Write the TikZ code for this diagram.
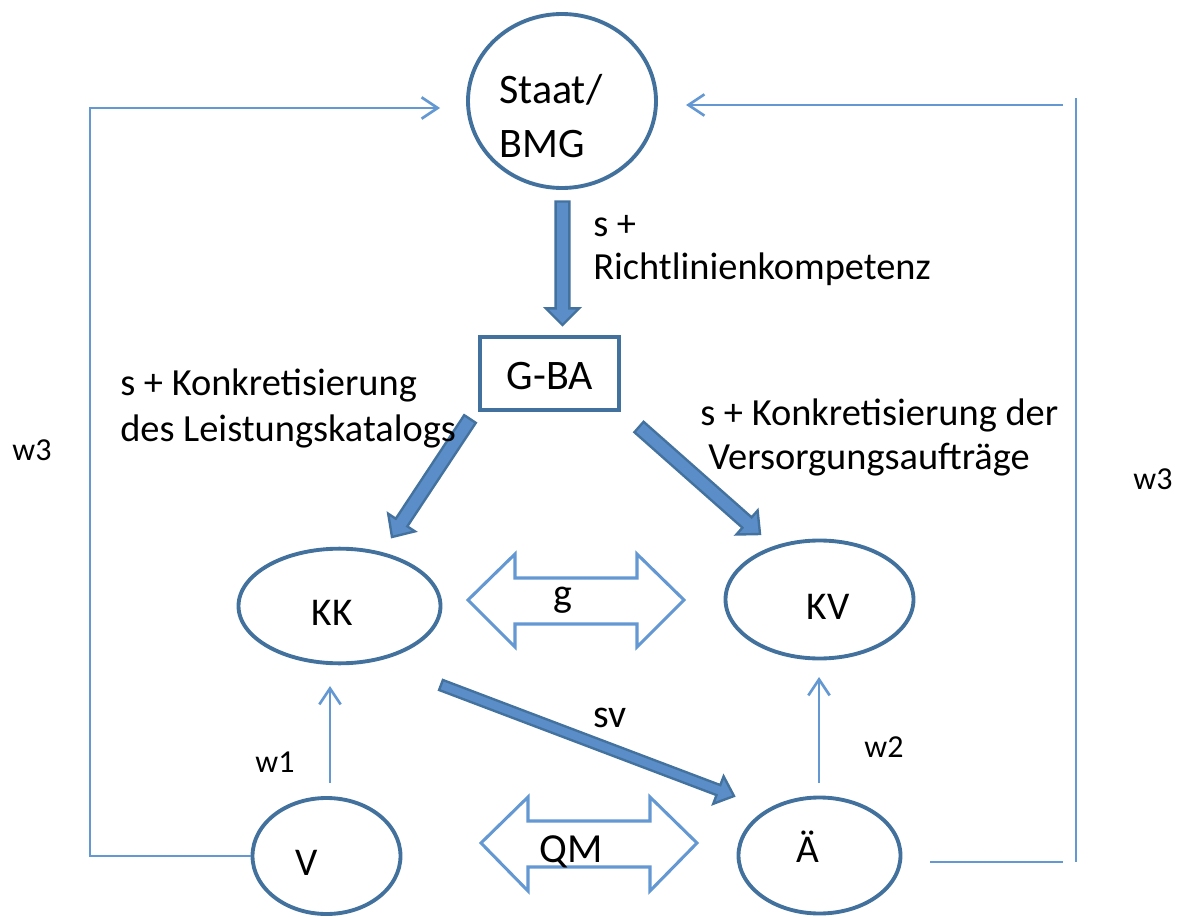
\documentclass[tikz,border=0pt]{standalone}
\usepackage{fontspec}
\setmainfont{Carlito}
\usetikzlibrary{calc,shapes.geometric,arrows.meta}

\definecolor{shapeline}{HTML}{41719C}
\definecolor{blockfill}{HTML}{5B8EC8}
\definecolor{blockline}{HTML}{44729F}
\definecolor{thinline}{HTML}{6498D2}

\tikzset{
  ell/.style={ellipse, draw=shapeline, line width=2.9pt, fill=white, inner sep=0pt},
  gbox/.style={rectangle, draw=shapeline, line width=2.9pt, fill=white, inner sep=0pt},
  ntext/.style={font=\fontsize{29.5}{40}\selectfont, inner sep=0pt, anchor=base},
  lbl/.style={font=\fontsize{28.8}{33}\selectfont, inner sep=0pt, align=left, anchor=base west},
  wlbl/.style={font=\fontsize{24}{29}\selectfont, inner sep=0pt, anchor=base},
  block/.style={fill=blockfill, draw=blockline, line width=1.8pt, line join=miter},
  hollow/.style={fill=white, draw=thinline, line width=2.3pt, line join=miter},
  thinpath/.style={draw=thinline, line width=2pt},
  barb/.style={-{Straight Barb[length=12pt,width=16pt]}}
}

% block arrow: #1 tail, #2 tip, #3 shaft half width, #4 head half width, #5 head length
\newcommand\blockarrow[5]{%
  \coordinate (ba-h) at ($(#2)!#5!(#1)$);
  \draw[block] ($(#1)!#3!90:(#2)$) -- ($(ba-h)!#3!90:(#2)$) -- ($(ba-h)!#4!90:(#2)$)
    -- (#2) -- ($(ba-h)!#4!-90:(#2)$) -- ($(ba-h)!#3!-90:(#2)$) -- ($(#1)!#3!-90:(#2)$) -- cycle;
}

\begin{document}
\begin{tikzpicture}[x=0.75pt,y=-0.75pt]
\useasboundingbox (0,0) rectangle (1183,917);

% shapes
\node[ell, minimum width=141pt, minimum height=130.5pt] (staat) at (562,101) {};
\node[gbox, minimum width=104pt, minimum height=55pt] (gba) at (549.5,373.5) {};
\node[ell, minimum width=151.5pt, minimum height=86pt] (kk) at (339.5,606) {};
\node[ell, minimum width=141pt, minimum height=88.5pt] (kv) at (819.5,599.5) {};
\node[ell, minimum width=111pt, minimum height=87pt] (v) at (326.5,856) {};
\node[ell, minimum width=121.5pt, minimum height=87pt] (ae) at (819.5,855.5) {};

% texts inside the shapes (base = last line)
\node[ntext, font=\fontsize{31.5}{40}\selectfont, align=left, anchor=base west] (staat-t) at (499,157) {Staat/\\BMG};
\node[ntext, font=\fontsize{31.5}{40}\selectfont] (gba-t) at (550,389) {G-BA};
\node[ntext] (kk-t) at (332,625) {KK};
\node[ntext] (kv-t) at (828,619) {KV};
\node[ntext] (v-t) at (307,875) {V};
\node[ntext] (ae-t) at (808,862) {Ä};

% thick block arrows
\coordinate (a1s) at (562.5,201.5);
\coordinate (a1e) at (562.5,325);
\blockarrow{a1s}{a1e}{5.2pt}{12.5pt}{12.5pt}

\coordinate (a2s) at (470,419);
\coordinate (a2e) at (392,537);
\blockarrow{a2s}{a2e}{5.2pt}{12pt}{13pt}

\coordinate (a3s) at (639,427);
\coordinate (a3e) at (760,534);
\blockarrow{a3s}{a3e}{5.2pt}{12pt}{13pt}

\coordinate (a4s) at (441,685);
\coordinate (a4e) at (734,796);
\blockarrow{a4s}{a4e}{4pt}{11pt}{12.5pt}

% hollow double arrows
\draw[hollow] (468,600) -- (515,554) -- (515,578) -- (637,578) -- (637,554) -- (684,600)
  -- (637,647) -- (637,624) -- (515,624) -- (515,647) -- cycle;
\draw[hollow] (481,843) -- (528,797) -- (528,821) -- (650,821) -- (650,797) -- (697,843)
  -- (650,891) -- (650,867) -- (528,867) -- (528,891) -- cycle;
\node[ntext, font=\fontsize{30}{36}\selectfont] (g-t) at (563,606) {g};
\node[ntext, font=\fontsize{31}{36}\selectfont] (qm-t) at (571,862) {QM};

% thin connectors
\coordinate (w1s) at (330,783);
\coordinate (w1e) at (330,686);
\draw[thinpath, barb] (w1s) -- (w1e);
\coordinate (w2s) at (819,783);
\coordinate (w2e) at (819,677);
\draw[thinpath, barb] (w2s) -- (w2e);

\coordinate (l-bot) at (90,856);
\coordinate (l-top) at (90,108);
\coordinate (l-end) at (440,108);
\draw[thinpath, barb] (v.west) -- (l-bot) -- (l-top) -- (l-end);

\coordinate (r-top) at (1063,105);
\coordinate (r-end) at (686,105);
\draw[thinpath, barb] (r-top) -- (r-end);
\coordinate (r-bs) at (930,862);
\coordinate (r-be) at (1063,862);
\draw[thinpath] (r-bs) -- (r-be);
\coordinate (r-vt) at (1076,98);
\coordinate (r-vb) at (1076,862);
\draw[thinpath] (r-vt) -- (r-vb);

% labels (base = last line)
\node[lbl, font=\fontsize{28.8}{32}\selectfont] (lab-rl) at (593,279) {s +\\Richtlinienkompetenz};
\node[lbl, font=\fontsize{28.8}{34}\selectfont] (lab-lk) at (120,441) {s + Konkretisierung\\des Leistungskatalogs};
\node[lbl, font=\fontsize{28.8}{33}\selectfont] (lab-va) at (700,469) {s + Konkretisierung der\\\hspace*{6pt}Versorgungsaufträge};
\node[ntext, font=\fontsize{30}{36}\selectfont] (lab-sv) at (610,727) {sv};
\node[wlbl] (lab-w1) at (275,772) {w1};
\node[wlbl] (lab-w2) at (884,757) {w2};
\node[wlbl] (lab-w3l) at (32,460) {w3};
\node[wlbl] (lab-w3r) at (1153,489) {w3};
\end{tikzpicture}
\end{document}
